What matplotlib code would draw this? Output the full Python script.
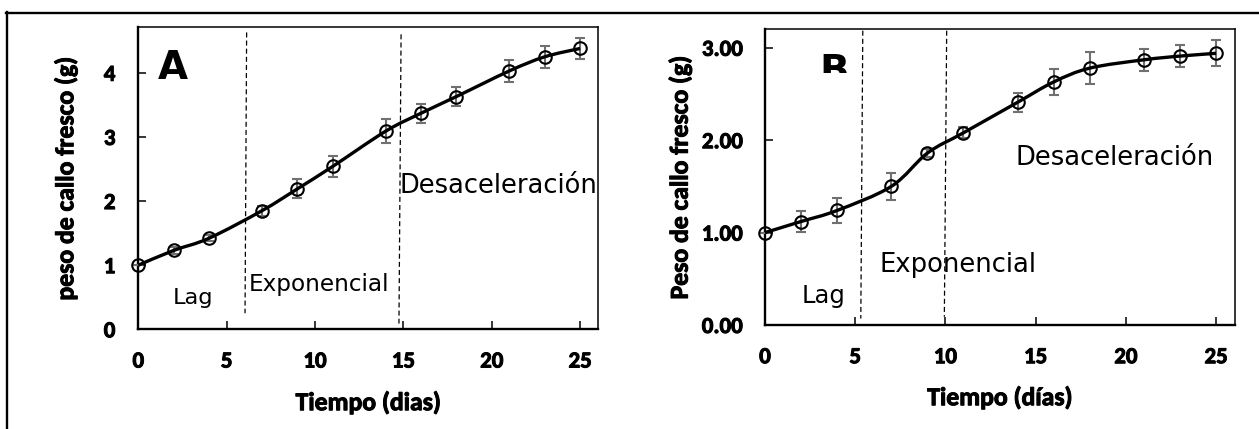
import matplotlib
matplotlib.use("Agg")
import matplotlib.pyplot as plt
import matplotlib.patheffects as pe
from matplotlib.path import Path
from matplotlib.patches import PathPatch
from matplotlib.lines import Line2D
from matplotlib.transforms import Bbox, TransformedBbox

# ---- data ----
days = [0, 2, 4, 7, 9, 11, 14, 16, 18, 21, 23, 25]
weight_a = [1.00, 1.23, 1.42, 1.85, 2.19, 2.54, 3.09, 3.37, 3.63, 4.03, 4.25, 4.38]
err_a = [0.0, 0.05, 0.05, 0.08, 0.15, 0.17, 0.19, 0.15, 0.15, 0.17, 0.17, 0.17]
weight_b = [1.00, 1.12, 1.24, 1.50, 1.86, 2.08, 2.41, 2.63, 2.78, 2.87, 2.91, 2.94]
err_b = [0.0, 0.11, 0.135, 0.15, 0.04, 0.06, 0.10, 0.14, 0.17, 0.12, 0.12, 0.14]
xticks = [0, 5, 10, 15, 20, 25]
yticks_a = [0, 1, 2, 3, 4]
yticks_b = [0.0, 1.0, 2.0, 3.0]
ytick_labels_b = ["0.00", "1.00", "2.00", "3.00"]
# phase boundaries (x at top, x at bottom, y top, y bottom)
phase_a = [(6.13, 6.04, 4.63, 0.25), (14.87, 14.75, 4.60, 0.09)]
phase_b = [(5.42, 5.31, 3.185, 0.07), (10.07, 9.94, 3.185, 0.09)]
phase_names = ["Lag", "Exponencial", "Desaceleración"]

W, H = 1259, 429
fig = plt.figure(figsize=(W / 100, H / 100), dpi=100)

BOLDFAM = ["Carlito", "Open Sans Condensed", "Lato"]
HEAVY = [pe.withStroke(linewidth=0.7, foreground="black")]
TICKFONT = dict(family=BOLDFAM, weight="bold", size=16.5)
LABELFONT = dict(family=BOLDFAM, weight="bold", size=18.5)


def smooth_path(xs, ys):
    pts = list(zip(xs, ys))
    n = len(pts)
    verts = [pts[0]]
    codes = [Path.MOVETO]
    for i in range(n - 1):
        p0 = pts[i - 1] if i > 0 else pts[i]
        p1 = pts[i]
        p2 = pts[i + 1]
        p3 = pts[i + 2] if i + 2 < n else pts[i + 1]
        c1 = (p1[0] + (p2[0] - p0[0]) / 6, p1[1] + (p2[1] - p0[1]) / 6)
        c2 = (p2[0] - (p3[0] - p1[0]) / 6, p2[1] - (p3[1] - p1[1]) / 6)
        verts += [c1, c2, p2]
        codes += [Path.CURVE4] * 3
    return Path(verts, codes)


def panel(rect, ys, errs, xlim, ylim, yticks, ylabels, phases, ylabel, xlabel,
          ylab_x, xlab_y, xpad, ypad):
    ax = fig.add_axes(rect)
    ax.set_xlim(*xlim)
    ax.set_ylim(*ylim)
    for s in ["left", "bottom"]:
        ax.spines[s].set_linewidth(1.7)
    for s in ["top", "right"]:
        ax.spines[s].set_linewidth(1.1)
    ax.set_xticks(xticks)
    ax.set_xticklabels([str(t) for t in xticks], fontdict=TICKFONT)
    ax.set_yticks(yticks)
    ax.set_yticklabels(ylabels, fontdict=TICKFONT)
    for lab in ax.get_xticklabels() + ax.get_yticklabels():
        lab.set_path_effects(HEAVY)
    ax.tick_params(axis="x", direction="in", length=5.5, width=1.1, pad=xpad)
    ax.tick_params(axis="y", direction="in", length=5.5, width=1.1, pad=ypad)
    for (xt, xb, yt, yb) in phases:
        ax.add_line(Line2D([xt, xb], [yt, yb], color="black", lw=0.9,
                           ls=(0, (4, 2.5))))
    ax.errorbar(days, ys, yerr=errs, fmt="none", ecolor="#707070",
                elinewidth=1.5, capsize=3.6, capthick=1.5, zorder=3, clip_on=False)
    ax.add_patch(PathPatch(smooth_path(days, ys), fill=False, lw=2.4,
                           edgecolor="black", zorder=4, clip_on=False))
    ax.plot(days, ys, ls="none", marker="o", ms=9, mfc="none", mec="black",
            mew=1.5, zorder=5, clip_on=False)
    ax.set_ylabel(ylabel, fontdict=LABELFONT, path_effects=HEAVY)
    ax.set_xlabel(xlabel, fontdict=LABELFONT, path_effects=HEAVY)
    ax.yaxis.set_label_coords(ylab_x, 0.5)
    ax.xaxis.set_label_coords(0.5, xlab_y)
    return ax


ax_a = panel([138.3 / W, 1 - 329.3 / H, 460 / W, 302 / H], weight_a, err_a,
             (0, 26.03), (0, 4.71), yticks_a, [str(t) for t in yticks_a],
             phase_a, "peso de callo fresco (g)", "Tiempo (dias)",
             -0.1326, -0.203, 16, 16.5)
ax_b = panel([765 / W, 1 - 325 / H, 470 / W, 295.7 / H], weight_b, err_b,
             (0, 26.05), (0, 3.2), yticks_b, ytick_labels_b,
             phase_b, "Peso de callo fresco (g)", "Tiempo (días)",
             -0.156, -0.205, 16, 16)

TXT = dict(family="DejaVu Sans", ha="left", va="baseline")
ax_a.text(1.95, 0.40, phase_names[0], size=16.2, **TXT)
ax_a.text(6.23, 0.60, phase_names[1], size=16.7, **TXT)
ax_a.text(14.77, 2.12, phase_names[2], size=18.5, **TXT)
ax_b.text(2.03, 0.235, phase_names[0], size=17.5, **TXT)
ax_b.text(6.37, 0.577, phase_names[1], size=18.6, **TXT)
ax_b.text(13.86, 1.73, phase_names[2], size=18.6, **TXT)

ax_a.text(1.13, 3.90, "A", family="DejaVu Sans", weight="bold", size=28,
          ha="left", va="baseline")
tb = ax_b.text(2.99, 2.616, "B", family="DejaVu Sans", weight="bold", size=28,
               ha="left", va="baseline")
tb.set_clip_box(TransformedBbox(Bbox([[0, 2.724], [26.05, 4.0]]), ax_b.transData))
tb.set_clip_on(True)

# outer frame: top and left edges
fig.add_artist(Line2D([6 / W, 1.0], [1 - 12.7 / H, 1 - 12.7 / H],
                      color="black", lw=1.7, transform=fig.transFigure))
fig.add_artist(Line2D([7 / W, 7 / W], [1 - 12 / H, 0.0],
                      color="black", lw=1.7, transform=fig.transFigure))

fig.savefig("out.png", dpi=100)
